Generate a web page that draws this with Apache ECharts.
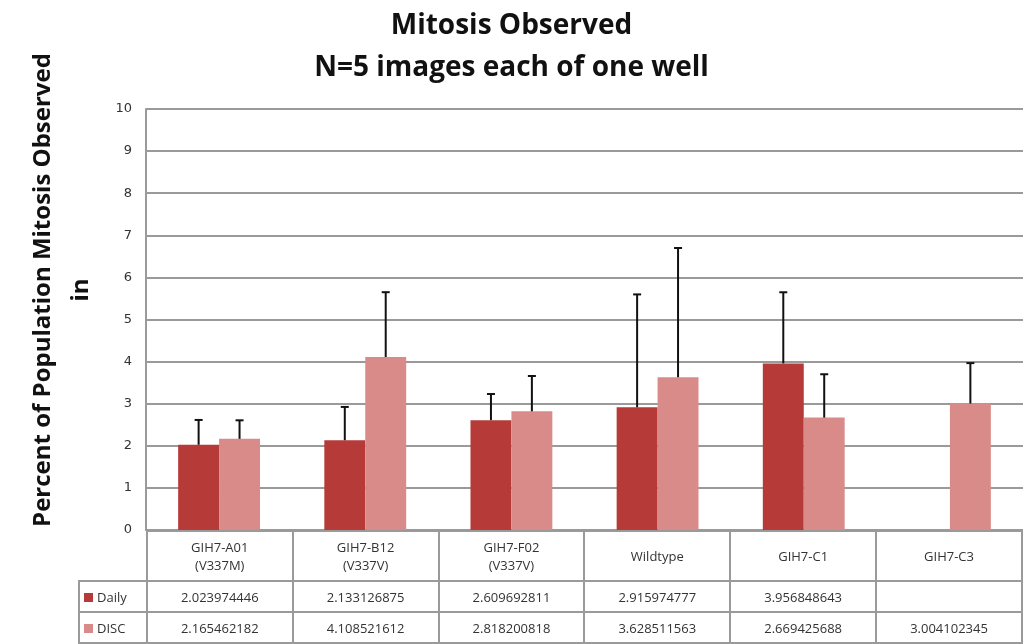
<!DOCTYPE html>
<html>
<head>
<meta charset="utf-8">
<script src="https://cdn.jsdelivr.net/npm/echarts@6/dist/echarts.min.js"></script>
<style>
  html, body { margin: 0; padding: 0; background: #fff; }
  #wrap { position: relative; width: 1023px; height: 644px; overflow: hidden; }
  #chart { position: absolute; left: 0; top: 0; width: 1023px; height: 644px; }
  #tbl {
    position: absolute; left: 78px; top: 530px;
    border-collapse: collapse; table-layout: fixed;
    font-family: "Liberation Sans Narrow", "Open Sans", sans-serif;
    font-size: 13px; color: #333;
  }
  #tbl td { border: 2px solid #9a9a9a; text-align: center; padding: 0; }
  #tbl td.blank { border: none; border-right: 2px solid #9a9a9a; }
  #tbl tr.head td { height: 48px; line-height: 18px; }
  #tbl tr.row td { height: 29px; }
  #tbl td.key { text-align: left; padding-left: 4px; }
  .sw { display: inline-block; width: 9px; height: 9px; margin-right: 4px; vertical-align: 0px; }
</style>
</head>
<body>
<div id="wrap">
  <div id="chart"></div>
  <table id="tbl"></table>
</div>
<script>
// 类目与数据
const categories = ['GIH7-A01\n(V337M)', 'GIH7-B12\n(V337V)', 'GIH7-F02\n(V337V)', 'Wildtype', 'GIH7-C1', 'GIH7-C3']
const dailyText = ['2.023974446', '2.133126875', '2.609692811', '2.915974777', '3.956848643', '']
const discText = ['2.165462182', '4.108521612', '2.818200818', '3.628511563', '2.669425688', '3.004102345']
const dailyValues = dailyText.map(t => t === '' ? null : Number(t))
const discValues = discText.map(t => Number(t))
// 误差线（只有向上的部分），从图上估计
const dailyErr = [0.59, 0.79, 0.62, 2.68, 1.69, null]
const discErr = [0.44, 1.54, 0.84, 3.07, 1.03, 0.96]
const yTicks = [0, 1, 2, 3, 4, 5, 6, 7, 8, 9, 10]

const colorDaily = '#b53a38'
const colorDisc = '#d98b8a'
const catGap = 0.44
const fontNarrow = '"Liberation Sans Narrow", "Open Sans", sans-serif'

const chart = echarts.init(document.getElementById('chart'))

// 误差线的 custom 渲染，side: -1 左侧柱，+1 右侧柱
function errRender (values, errs, side) {
  return function (params, api) {
    const i = api.value(0)
    const v = values[i]
    const e = errs[i]
    if (v == null || e == null) return
    const band = api.size([1, 0])[0]
    const bw = band * (1 - catGap) / 2
    const base = api.coord([i, v])
    const top = api.coord([i, v + e])
    const x = base[0] + side * bw / 2
    const style = { stroke: '#111', lineWidth: 2 }
    return {
      type: 'group',
      children: [
        { type: 'line', shape: { x1: x, y1: base[1], x2: x, y2: top[1] }, style },
        { type: 'line', shape: { x1: x - 4, y1: top[1], x2: x + 4, y2: top[1] }, style }
      ]
    }
  }
}

chart.setOption({
  animation: false,
  title: {
    text: 'Mitosis Observed\nN=5 images each of one well',
    left: 'center',
    top: 0,
    textStyle: {
      fontFamily: fontNarrow,
      fontSize: 28, fontWeight: 'bold', color: '#111', lineHeight: 42
    }
  },
  graphic: [
    {
      type: 'text', x: 24, y: 290, rotation: Math.PI / 2,
      style: {
        text: 'Percent of Population Mitosis Observed\nin',
        fontFamily: fontNarrow, fontSize: 24, fontWeight: 'bold',
        fill: '#111', align: 'center', verticalAlign: 'top', lineHeight: 38
      },
      originX: 0, originY: 0
    }
  ],
  grid: { left: 146, right: 0, top: 109, bottom: 114, containLabel: false, outerBoundsMode: 'none' },
  xAxis: {
    type: 'category',
    data: categories,
    axisLine: { lineStyle: { color: '#9a9a9a', width: 2 } },
    axisTick: { show: false },
    axisLabel: { show: false }
  },
  yAxis: {
    type: 'value',
    min: yTicks[0],
    max: yTicks[yTicks.length - 1],
    interval: 1,
    axisLine: { show: true, lineStyle: { color: '#9a9a9a', width: 2 } },
    axisTick: { show: false },
    splitLine: { lineStyle: { color: '#9a9a9a', width: 2 } },
    axisLabel: {
      margin: 14,
      fontFamily: '"DejaVu Sans", sans-serif',
      fontSize: 13, color: '#333'
    }
  },
  series: [
    {
      name: 'Daily', type: 'bar', data: dailyValues,
      itemStyle: { color: colorDaily },
      barGap: '0%', barCategoryGap: (catGap * 100) + '%'
    },
    {
      name: 'DISC', type: 'bar', data: discValues,
      itemStyle: { color: colorDisc }
    },
    {
      type: 'custom', z: 10,
      renderItem: errRender(dailyValues, dailyErr, -1),
      data: categories.map((c, i) => [i])
    },
    {
      type: 'custom', z: 10,
      renderItem: errRender(discValues, discErr, 1),
      data: categories.map((c, i) => [i])
    }
  ]
})

// 下方数据表
const tbl = document.getElementById('tbl')
const colW = (1023 - 146) / categories.length
let html = '<colgroup><col style="width:68px">'
categories.forEach(() => { html += '<col style="width:' + colW + 'px">' })
html += '</colgroup>'
html += '<tr class="head"><td class="blank"></td>' +
  categories.map(c => '<td>' + c.replace('\n', '<br>') + '</td>').join('') + '</tr>'
html += '<tr class="row"><td class="key"><span class="sw" style="background:' + colorDaily + '"></span>Daily</td>' +
  dailyText.map(t => '<td>' + t + '</td>').join('') + '</tr>'
html += '<tr class="row"><td class="key"><span class="sw" style="background:' + colorDisc + '"></span>DISC</td>' +
  discText.map(t => '<td>' + t + '</td>').join('') + '</tr>'
tbl.innerHTML = html
</script>
</body>
</html>
